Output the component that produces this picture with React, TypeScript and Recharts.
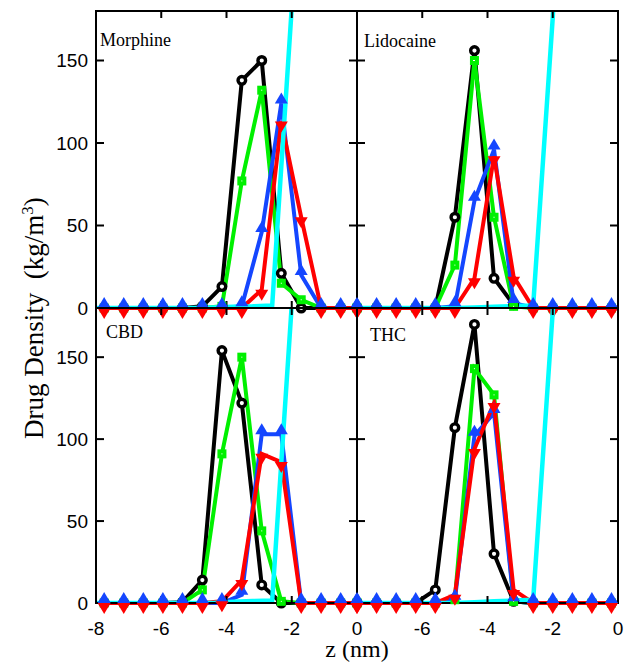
import React from 'react';
import { LineChart, Line, XAxis, YAxis, ReferenceArea } from 'recharts';

// z grids (nm): left panels and right panels sit on slightly shifted bins
const zLeft = [-7.75, -7.15, -6.55, -5.95, -5.35, -4.74, -4.14, -3.53, -2.92, -2.32, -1.71, -1.1, -0.5, 0];
const zRight = [-8, -7.4, -6.8, -6.2, -5.6, -5.0, -4.4, -3.8, -3.2, -2.6, -2.0, -1.4, -0.8, -0.2];
const zWater = [-8, -7.4, -6.8, -6.2, -5.6, -5.0, -4.4, -3.8, -3.2, -2.6, -2.0, -1.4, -0.8, -0.2];

const xTicksLeft = [-8, -6, -4, -2, 0];
const xTicksRight = [-6, -4, -2, 0];
const yTicks = [0, 50, 100, 150];

// Morphine
const morBlack = [0, 0, 0, 0, 0, 1, 13, 138, 150, 21, 0, 0, 0, 0];
const morGreen = [0, 0, 0, 0, 0, 0, 1, 77, 132, 15, 5, 0, 0, 0];
const morBlue = [0, 0, 0, 0, 0, 0, 0, 1, 46, 124, 20, 0, 0, 0];
const morRed = [0, 0, 0, 0, 0, 0, 0, 0, 11, 113, 55, 0, 0, 0];
const morCyan = [0, 0, 0, 0, 0, 0, 0.3, 0.8, 1, 1.5, 182, 420, 690, 880];

// Lidocaine
const lidBlack = [0, 0, 0, 0, 0, 55, 156, 18, 2, 0, 0, 0, 0, 0];
const lidGreen = [0, 0, 0, 0, 0, 26, 150, 55, 1, 0, 0, 0, 0, 0];
const lidBlue = [0, 0, 0, 0, 0, 1, 65, 96, 3, 0, 0, 0, 0, 0];
const lidRed = [0, 0, 0, 0, 0, 0, 18, 92, 19, 0, 0, 0, 0, 0];
const lidCyan = [0, 0, 0, 0, 0, 0, 0.3, 0.8, 1.2, 1.5, 176, 420, 690, 880];

// CBD
const cbdBlack = [0, 0, 0, 0, 0.5, 14, 154, 122, 11, 0, 0, 0, 0, 0];
const cbdGreen = [0, 0, 0, 0, 0, 8, 91, 150, 44, 1, 0, 0, 0, 0];
const cbdBlue = [0, 0, 0, 0, 0, 0, 0, 5, 103, 103, 0, 0, 0, 0];
const cbdRed = [0, 0, 0, 0, 0, 0, 1, 14, 91, 86, 0, 0, 0, 0];
const cbdCyan = [0, 0, 0, 0, 0, 0, 0, 0.8, 1.2, 1.5, 182, 420, 690, 880];

// THC
const thcBlack = [0, 0, 0, 0, 8, 107, 170, 30, 1, 0, 0, 0, 0, 0];
const thcGreen = [0, 0, 0, 0, 0, 2, 143, 127, 1, 0, 0, 0, 0, 0];
const thcBlue = [0, 0, 0, 0, 0, 2, 102, 116, 1, 0, 0, 0, 0, 0];
const thcRed = [0, 0, 0, 0, 0, 5, 94, 122, 8, 0, 0, 0, 0, 0];
const thcCyan = [0, 0, 0, 0, 0, 0, 0.5, 1, 1.5, 2, 178, 420, 690, 880];

const GREEN = '#00f000';
const BLUE = '#1446ff';
const RED = '#ff0000';
const CYAN = '#00ffff';

const pts = (z: number[], v: number[]) => z.map((x, i) => ({ z: x, v: v[i] }));

const circleDot = (p: any) => (
  <circle key={`c${p.index}`} cx={p.cx} cy={p.cy} r={3.8} fill="#fff" stroke="#000" strokeWidth={3.4} />
);
const squareDot = (p: any) => (
  <rect key={`s${p.index}`} x={p.cx - 2.5} y={p.cy - 2.5} width={5} height={5} fill="#fff" stroke={GREEN} strokeWidth={4} />
);
const upDot = (p: any) => (
  <path key={`u${p.index}`} d={`M${p.cx - 6.5},${p.cy} L${p.cx + 6.5},${p.cy} L${p.cx},${p.cy - 11} Z`} fill={BLUE} />
);
const downDot = (p: any) => (
  <path key={`d${p.index}`} d={`M${p.cx - 6.5},${p.cy} L${p.cx + 6.5},${p.cy} L${p.cx},${p.cy + 11} Z`} fill={RED} />
);
// empty tick so the axis still draws its inward tick marks
const noLabel = (p: any) => <g key={`n${p.index}`} />;

const tickFont = { fill: '#000', fontSize: 19, fontFamily: 'Liberation Sans, Arial, sans-serif' };
const frame = { stroke: '#000', strokeWidth: 2 };

type PanelProps = {
  z: number[];
  black: number[];
  green: number[];
  blue: number[];
  red: number[];
  cyan: number[];
  left: boolean;
  bottom: boolean;
};

function Panel({ z, black, green, blue, red, cyan, left, bottom }: PanelProps) {
  const plotW = 261;
  const plotH = bottom ? 295 : 297;
  const margin = {
    top: bottom ? 9 : 10,
    right: 6,
    bottom: bottom ? 0 : 14,
    left: left ? 0 : 9,
  };
  const yW = left ? 96 : 1;
  const xH = bottom ? 45 : 1;
  const width = margin.left + yW + plotW + 1 + margin.right;
  const height = margin.top + 1 + plotH + xH + margin.bottom;
  const line = { isAnimationActive: false, type: 'linear' as const, dataKey: 'v', strokeWidth: 4, activeDot: false as const };

  return (
    <div style={{ flex: 'none', width, height }}>
      <LineChart width={width} height={height} margin={margin}>
        <XAxis
          xAxisId="b"
          type="number"
          dataKey="z"
          domain={[-8, 0]}
          ticks={left ? xTicksLeft : xTicksRight}
          interval={0}
          height={xH}
          tickSize={-7}
          tickMargin={26}
          tick={bottom ? tickFont : noLabel}
          axisLine={frame}
          tickLine={frame}
        />
        <XAxis
          xAxisId="t"
          orientation="top"
          type="number"
          dataKey="z"
          domain={[-8, 0]}
          ticks={xTicksLeft}
          interval={0}
          height={1}
          tickSize={-7}
          tick={noLabel}
          axisLine={frame}
          tickLine={frame}
        />
        <YAxis
          yAxisId="l"
          type="number"
          domain={[0, 180]}
          ticks={yTicks}
          interval={0}
          width={yW}
          tickSize={-8}
          tickMargin={16}
          tick={left ? tickFont : noLabel}
          axisLine={frame}
          tickLine={frame}
        />
        <YAxis
          yAxisId="r"
          orientation="right"
          type="number"
          domain={[0, 180]}
          ticks={yTicks}
          interval={0}
          width={1}
          tickSize={-8}
          tick={noLabel}
          axisLine={frame}
          tickLine={frame}
        />
        <YAxis yAxisId="c" hide width={0} orientation="right" type="number" domain={[0, 180]} allowDataOverflow />
        <ReferenceArea xAxisId="b" yAxisId="l" x1={-8} x2={0} y1={0} y2={180} fill="none" stroke="#000" strokeWidth={2} ifOverflow="visible" />
        <Line {...line} xAxisId="t" yAxisId="l" data={pts(z, black)} stroke="#000" dot={circleDot} />
        <Line {...line} xAxisId="b" yAxisId="r" data={pts(z, green)} stroke={GREEN} dot={squareDot} />
        <Line {...line} xAxisId="b" yAxisId="l" data={pts(z, blue)} stroke={BLUE} dot={upDot} />
        <Line {...line} xAxisId="t" yAxisId="r" data={pts(z, red)} stroke={RED} dot={downDot} />
        <Line {...line} xAxisId="b" yAxisId="c" data={pts(zWater, cyan)} stroke={CYAN} strokeWidth={4.5} dot={false} />
      </LineChart>
    </div>
  );
}

const nameStyle: React.CSSProperties = {
  position: 'absolute',
  fontFamily: 'Liberation Serif, Times New Roman, serif',
  fontSize: 18,
  lineHeight: '18px',
  color: '#000',
  whiteSpace: 'nowrap',
};

export default function App() {
  return (
    <div style={{ position: 'fixed', left: 0, top: 0, width: 625, height: 662, overflow: 'hidden', background: '#fff' }}>
      <div style={{ display: 'flex', alignItems: 'flex-start', height: 323 }}>
        <Panel z={zLeft} black={morBlack} green={morGreen} blue={morBlue} red={morRed} cyan={morCyan} left bottom={false} />
        <div style={{ marginLeft: -17, flex: 'none' }}>
          <Panel z={zRight} black={lidBlack} green={lidGreen} blue={lidBlue} red={lidRed} cyan={lidCyan} left={false} bottom={false} />
        </div>
      </div>
      <div style={{ display: 'flex', alignItems: 'flex-start', marginTop: -25 }}>
        <Panel z={zLeft} black={cbdBlack} green={cbdGreen} blue={cbdBlue} red={cbdRed} cyan={cbdCyan} left bottom />
        <div style={{ marginLeft: -17, flex: 'none' }}>
          <Panel z={zRight} black={thcBlack} green={thcGreen} blue={thcBlue} red={thcRed} cyan={thcCyan} left={false} bottom />
        </div>
      </div>

      <div style={{ ...nameStyle, left: 100, top: 31 }}>Morphine</div>
      <div style={{ ...nameStyle, left: 364, top: 32 }}>Lidocaine</div>
      <div style={{ ...nameStyle, left: 106, top: 323 }}>CBD</div>
      <div style={{ ...nameStyle, left: 370, top: 326 }}>THC</div>

      <div
        style={{
          position: 'absolute',
          left: 257,
          top: 638,
          width: 200,
          textAlign: 'center',
          fontFamily: 'Liberation Serif, Times New Roman, serif',
          fontSize: 24,
          lineHeight: '22px',
        }}
      >
        z (nm)
      </div>
      <div
        style={{
          position: 'absolute',
          left: -122,
          top: 304,
          width: 300,
          height: 28,
          textAlign: 'center',
          fontFamily: 'Liberation Serif, Times New Roman, serif',
          fontSize: 27,
          lineHeight: '28px',
          transform: 'rotate(-90deg)',
          whiteSpace: 'nowrap',
        }}
      >
        Drug Density{'\u00a0\u00a0'}(kg/m<sup style={{ fontSize: 17 }}>3</sup>)
      </div>
    </div>
  );
}
